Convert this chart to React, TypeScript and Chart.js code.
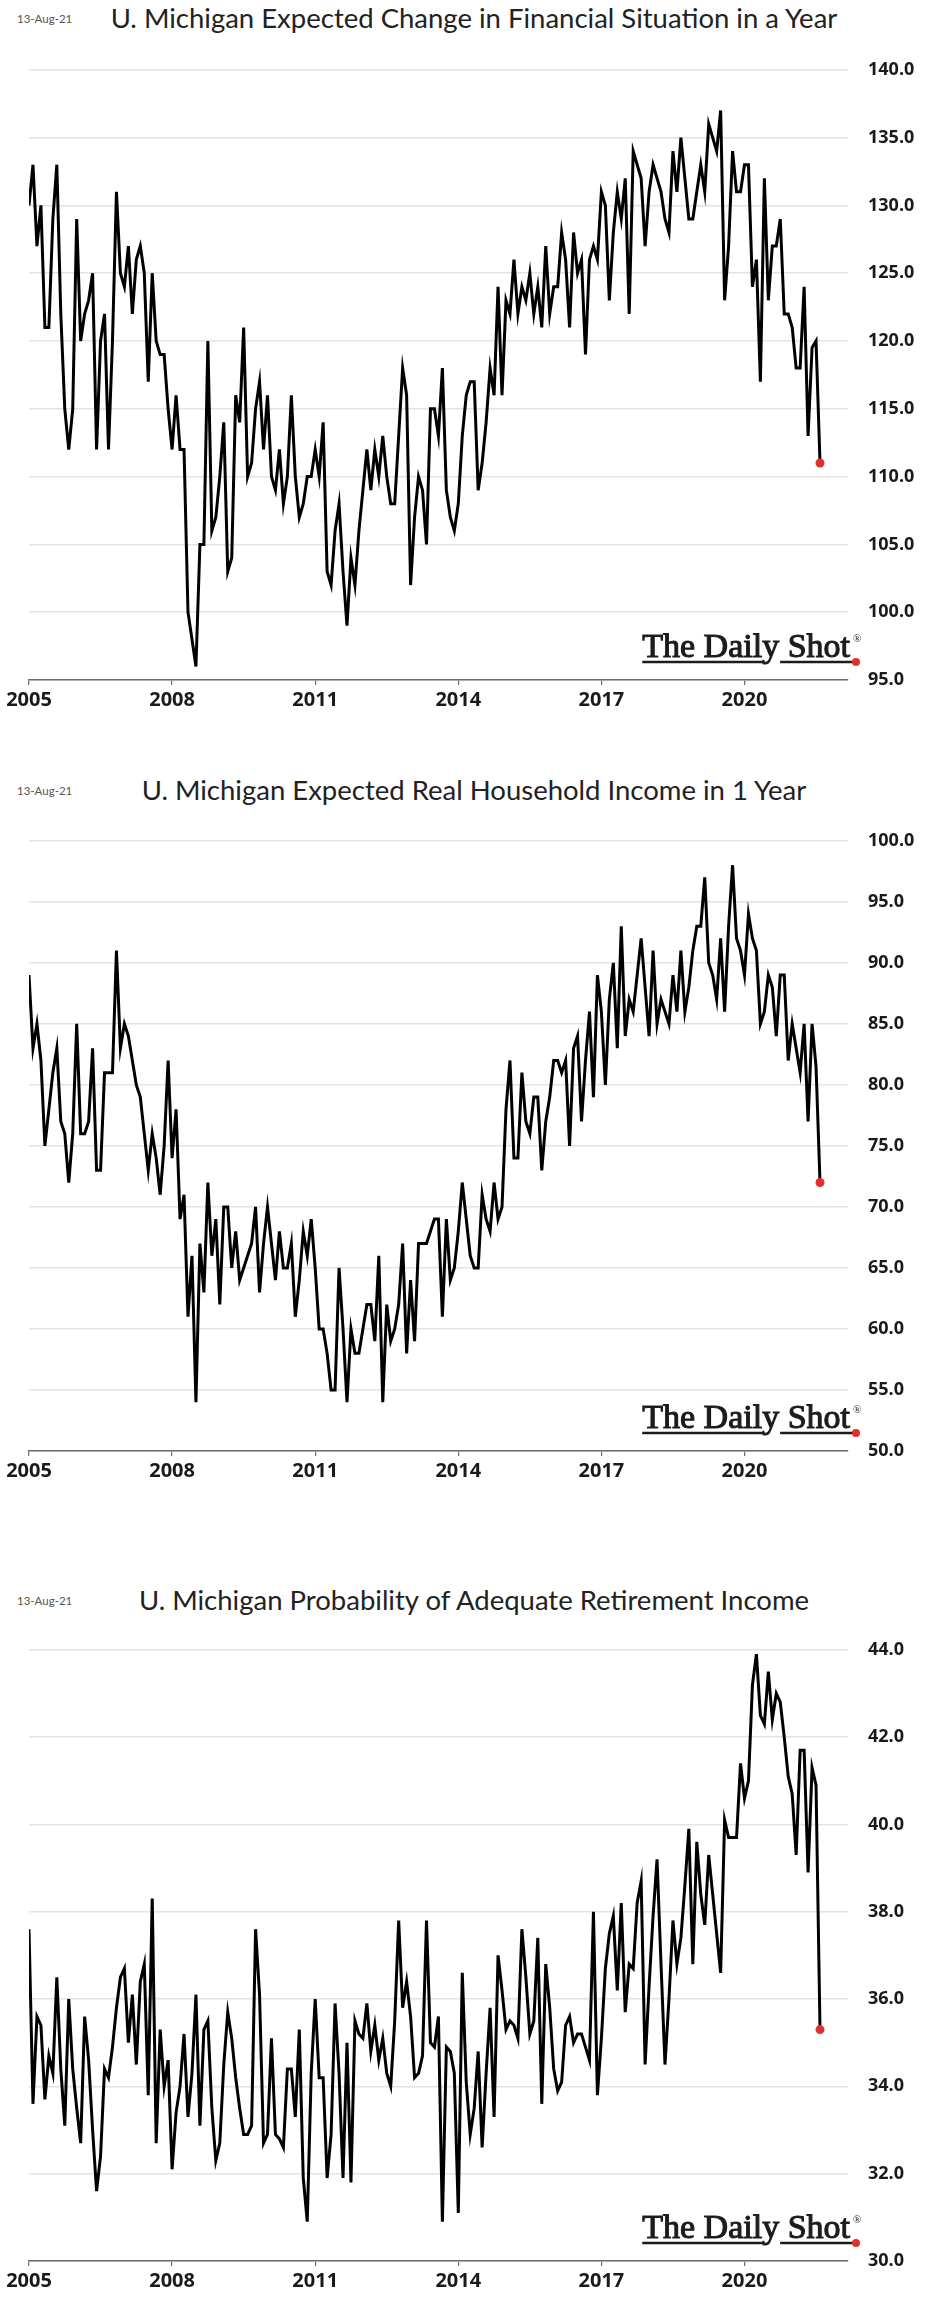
import React, { useEffect, useRef } from "react";
import { Chart, registerables } from "chart.js";

Chart.register(...registerables);

// ---------- data ----------
const START_YEAR = 2005; // monthly series, Jan 2005 .. Aug 2021
const X_MIN = 2005;
const X_MAX = 2022.17;
const YEAR_TICKS = [2005, 2008, 2011, 2014, 2017, 2020];
const DATE_LABEL = "13-Aug-21";

const TITLE_FIN = "U. Michigan Expected Change in Financial Situation in a Year";
const TITLE_INCOME = "U. Michigan Expected Real Household Income in 1 Year";
const TITLE_RETIRE = "U. Michigan Probability of Adequate Retirement Income";

const FIN_SITUATION = [
  130, 133, 127, 130, 121, 121, 129, 133, 122, 115, 112, 115,
  129, 120, 122, 123, 125, 112, 120, 122, 112, 120, 131, 125,
  124, 127, 122, 126, 127, 125, 117, 125, 120, 119, 119, 115,
  112, 116, 112, 112, 100, 98, 96, 105, 105, 120, 106, 107,
  110, 114, 103, 104, 116, 114, 121, 110, 111, 115, 117, 112,
  116, 110, 109, 112, 108, 110, 116, 110, 107, 108, 110, 110,
  112, 110, 114, 103, 102, 106, 108, 103, 99, 104, 102, 106,
  109, 112, 109, 112, 110, 113, 110, 108, 108, 113, 118, 116,
  102, 107, 110, 109, 105, 115, 115, 113, 118, 109, 107, 106,
  108, 113, 116, 117, 117, 109, 111, 114, 118, 116, 124, 116,
  123, 122, 126, 122, 124, 123, 125, 122, 124, 121, 127, 122,
  124, 124, 128, 126, 121, 128, 125, 126, 119, 126, 127, 126,
  131, 130, 123, 128, 131, 129, 132, 122, 134, 133, 132, 127,
  131, 133, 132, 131, 129, 128, 134, 131, 135, 132, 129, 129,
  131, 133, 131, 136, 135, 134, 137, 123, 127, 134, 131, 131,
  133, 133, 124, 126, 117, 132, 123, 127, 127, 129, 122, 122,
  121, 118, 118, 124, 113, 119.5, 120, 111,
];

const REAL_INCOME = [
  89, 83, 85, 82, 75, 78, 81, 83, 77, 76, 72, 76,
  85, 76, 76, 77, 83, 73, 73, 81, 81, 81, 91, 83,
  85, 84, 82, 80, 79, 76, 73, 76, 74, 71, 75, 82,
  74, 78, 69, 71, 61, 66, 54, 67, 63, 72, 66, 69,
  62, 70, 70, 65, 68, 64, 65, 66, 67, 70, 63, 67,
  70, 67, 64, 68, 65, 65, 67, 61, 64, 68, 66, 69,
  65, 60, 60, 58, 55, 55, 65, 60, 54, 60, 58, 58,
  60, 62, 62, 59, 66, 54, 62, 59, 60, 62, 67, 58,
  64, 59, 67, 67, 67, 68, 69, 69, 61, 69, 64, 65,
  68, 72, 69, 66, 65, 65, 71, 69, 68, 72, 69, 70,
  78, 82, 74, 74, 81, 77, 76, 79, 79, 73, 77, 79,
  82, 82, 81, 82, 75, 83, 84, 77, 82, 86, 79, 89,
  86, 80, 87, 90, 83, 93, 84, 87, 86, 89, 92, 88,
  84, 91, 85, 87, 86, 85, 89, 86, 91, 86, 88, 91,
  93, 93, 97, 90, 89, 87, 92, 86, 93, 98, 92, 91,
  89, 94, 92, 91, 85, 86, 89, 88, 84, 89, 89, 82,
  85, 83, 81, 85, 77, 85, 81.5, 72,
];

const RETIREMENT = [
  37.6, 33.6, 35.6, 35.4, 33.7, 34.7, 34.3, 36.5, 34.4, 33.1, 36.0, 34.4,
  33.5, 32.7, 35.6, 34.6, 33.0, 31.6, 32.4, 34.4, 34.2, 34.9, 35.8, 36.5,
  36.7, 35.0, 36.1, 34.5, 36.4, 36.8, 33.8, 38.3, 32.7, 35.3, 34.0, 34.6,
  32.1, 33.4, 34.0, 35.2, 33.3, 34.3, 36.1, 33.1, 35.3, 35.5, 33.5, 32.3,
  32.7, 34.5, 35.7, 35.1, 34.2, 33.5, 32.9, 32.9, 33.1, 37.6, 36.1, 32.7,
  32.9, 35.1, 32.9, 32.8, 32.6, 34.4, 34.4, 33.3, 35.3, 31.9, 30.9, 34.3,
  36.0, 34.2, 34.2, 31.9, 32.9, 35.9, 34.3, 31.9, 35.0, 31.8, 35.5, 35.2,
  35.1, 35.9, 34.8, 35.4, 34.6, 35.1, 34.3, 34.0, 35.5, 37.8, 35.8, 36.4,
  35.6, 34.2, 34.3, 34.7, 37.8, 35.0, 34.9, 35.6, 30.9, 34.9, 34.8, 34.3,
  31.1, 36.6, 34.1, 32.9, 33.5, 34.8, 32.6, 34.3, 35.8, 33.3, 37.0, 36.2,
  35.3, 35.5, 35.4, 35.1, 37.6, 36.5, 35.2, 35.5, 37.4, 33.6, 36.8, 35.8,
  34.4, 33.9, 34.1, 35.4, 35.6, 35.0, 35.2, 35.2, 34.9, 34.6, 38.0, 33.8,
  35.1, 36.7, 37.5, 37.9, 36.2, 38.2, 35.7, 36.8, 36.7, 38.2, 38.7, 34.5,
  36.3, 37.9, 39.2, 36.8, 34.5, 36.0, 37.8, 36.8, 37.4, 38.6, 39.9, 36.8,
  39.6, 38.4, 37.7, 39.3, 38.4, 37.5, 36.6, 40.1, 39.7, 39.7, 39.7, 41.4,
  40.6, 41.0, 43.2, 43.9, 42.5, 42.3, 43.5, 42.4, 43.0, 42.8, 42.0, 41.1,
  40.7, 39.3, 41.7, 41.7, 38.9, 41.3, 40.9, 35.3,
];

// ---------- styling ----------
const TEXT_DARK = "#1a1a1a";
const RED = "#e0302a";
const LABEL_FONT = '"Open Sans", Lato, sans-serif';

function toPoints(values: number[]) {
  return values.map((v, i) => ({ x: START_YEAR + i / 12, y: v }));
}

const logoPlugin = {
  id: "dailyShotLogo",
  afterDraw(chart: any) {
    const { ctx, chartArea } = chart;
    const right = chartArea.right + 2;
    const base = chartArea.bottom - 23;
    const lineY = chartArea.bottom - 18;
    ctx.save();
    ctx.font = '34px "Liberation Serif", "Times New Roman", serif';
    ctx.textBaseline = "alphabetic";
    ctx.textAlign = "left";
    const text = "The Daily Shot";
    const w = ctx.measureText(text).width;
    const x0 = right - w;
    ctx.fillStyle = "#1c1c1c";
    ctx.strokeStyle = "#1c1c1c";
    ctx.fillText(text, x0, base);
    ctx.lineWidth = 1.1;
    ctx.strokeText(text, x0, base);
    const yStart = x0 + ctx.measureText("The Dail").width;
    const yW = ctx.measureText("y").width;
    ctx.lineWidth = 2.4;
    ctx.beginPath();
    ctx.moveTo(x0, lineY);
    ctx.lineTo(yStart + 1, lineY);
    ctx.moveTo(yStart + yW + 1, lineY);
    ctx.lineTo(right + 6, lineY);
    ctx.stroke();
    ctx.font = '11px "Liberation Serif", serif';
    ctx.fillText("®", right + 3, base - 15);
    ctx.fillStyle = RED;
    ctx.beginPath();
    ctx.arc(right + 6, lineY, 4, 0, Math.PI * 2);
    ctx.fill();
    ctx.restore();
  },
};

type PanelProps = {
  title: string;
  values: number[];
  yMin: number;
  yMax: number;
  yStep: number;
  titleY: number;
  plotTop: number;
  plotBottom: number;
};

const PAD_TOP = 20;
const X_AXIS_H = 45;

function Panel({ title, values, yMin, yMax, yStep, titleY, plotTop, plotBottom }: PanelProps) {
  const ref = useRef<HTMLCanvasElement | null>(null);
  const canvasTop = plotTop - PAD_TOP;
  const canvasH = plotBottom - plotTop + PAD_TOP + X_AXIS_H;

  useEffect(() => {
    if (!ref.current) return;
    const last = values.length - 1;
    const chart = new Chart(ref.current, {
      type: "line",
      data: {
        datasets: [
          {
            data: toPoints(values),
            borderColor: "#000",
            borderWidth: 3,
            tension: 0,
            fill: false,
            pointRadius: (c: any) => (c.dataIndex === last ? 4.5 : 0),
            pointBackgroundColor: RED,
            pointBorderWidth: 0,
            pointHoverRadius: 0,
          },
        ],
      },
      options: {
        responsive: false,
        animation: false,
        events: [],
        layout: { padding: { top: PAD_TOP, left: 29, right: 0, bottom: 0 } },
        plugins: {
          legend: { display: false },
          tooltip: { enabled: false },
          title: { display: false },
        },
        scales: {
          x: {
            type: "linear",
            min: X_MIN,
            max: X_MAX,
            afterBuildTicks: (s: any) => {
              s.ticks = YEAR_TICKS.map((v) => ({ value: v }));
            },
            afterFit: (s: any) => {
              s.height = X_AXIS_H;
            },
            grid: {
              display: true,
              drawOnChartArea: false,
              drawTicks: true,
              tickLength: 5,
              color: "#6b6b6b",
              lineWidth: 1.2,
            },
            border: { display: true, color: "#6b6b6b", width: 1.5 },
            ticks: {
              autoSkip: false,
              maxRotation: 0,
              padding: 3,
              color: TEXT_DARK,
              font: { family: LABEL_FONT, size: 20, weight: "bold" },
              callback: (v: any) => String(v),
            },
          },
          y: {
            position: "right",
            min: yMin,
            max: yMax,
            afterFit: (s: any) => {
              s.width = 78;
            },
            grid: { color: "#e3e3e3", lineWidth: 1.5, drawTicks: false },
            border: { display: false },
            ticks: {
              stepSize: yStep,
              padding: 20,
              color: TEXT_DARK,
              font: { family: LABEL_FONT, size: 18, weight: "bold" },
              callback: (v: any) => Number(v).toFixed(1),
            },
          },
        },
      } as any,
      plugins: [logoPlugin],
    });
    return () => chart.destroy();
  }, [values, yMin, yMax, yStep]);

  return (
    <>
      <div
        style={{
          position: "absolute",
          left: 17,
          top: titleY - 6,
          fontFamily: "Lato, sans-serif",
          fontSize: 11.5,
          lineHeight: "14px",
          color: "#555",
          whiteSpace: "nowrap",
        }}
      >
        {DATE_LABEL}
      </div>
      <div
        style={{
          position: "absolute",
          left: 474,
          top: titleY - 17,
          transform: "translateX(-50%)",
          fontFamily: "Lato, sans-serif",
          fontSize: 27.5,
          lineHeight: "34px",
          color: "#222",
          whiteSpace: "nowrap",
        }}
      >
        {title}
      </div>
      <canvas
        ref={ref}
        width={926}
        height={canvasH}
        style={{ position: "absolute", left: 0, top: canvasTop, width: 926, height: canvasH }}
      />
    </>
  );
}

export default function App() {
  return (
    <div
      style={{
        position: "absolute",
        left: 0,
        top: 0,
        width: 926,
        height: 2304,
        background: "#fff",
        overflow: "hidden",
      }}
    >
      <Panel title={TITLE_FIN} values={FIN_SITUATION} yMin={95} yMax={140} yStep={5} titleY={18} plotTop={59} plotBottom={680} />
      <Panel title={TITLE_INCOME} values={REAL_INCOME} yMin={50} yMax={100} yStep={5} titleY={790} plotTop={830} plotBottom={1451} />
      <Panel title={TITLE_RETIRE} values={RETIREMENT} yMin={30} yMax={44} yStep={2} titleY={1600} plotTop={1639} plotBottom={2261} />
    </div>
  );
}
